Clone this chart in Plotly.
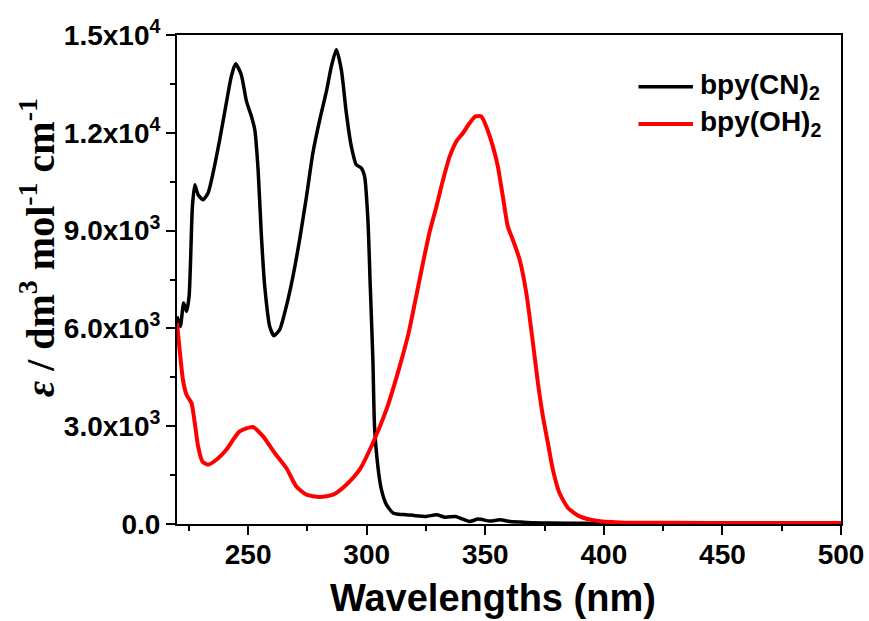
import plotly.graph_objects as go

# bpy(CN)2 absorption spectrum (wavelength in nm, epsilon in dm3 mol-1 cm-1)
cn_wl = [220.0, 221.4, 222.8, 224.0, 225.1, 226.5, 227.5, 228.9, 231.0, 233.1,
         235.2, 238.0, 240.8, 242.9, 244.7, 247.1, 249.3, 251.4, 252.8, 254.2,
         255.6, 257.0, 259.1, 260.9, 263.3, 266.1, 268.9, 271.7, 274.6, 277.3,
         280.2, 283.0, 285.1, 287.2, 289.3, 291.4, 293.5, 295.6, 297.7, 299.1,
         300.5, 301.5, 302.6, 303.3, 304.7, 306.2, 308.3, 311.1, 313.5, 316.7,
         320.0, 325.1, 329.4, 333.0, 337.5, 339.2, 343.4, 347.0, 352.0, 356.0,
         360.3, 365.0, 370.0, 378.4, 390.0, 410.0, 440.0, 470.0, 500.0]
cn_eps = [6368, 6061, 6779, 6521, 6982, 9742, 10408, 10101, 9948, 10153,
          10767, 11788, 12914, 13730, 14120, 13782, 12963, 12503, 12095, 10868,
          8822, 7288, 6061, 5776, 5960, 6675, 7595, 8721, 10049, 11380,
          12402, 13270, 14037, 14549, 13936, 12607, 11583, 11022, 10920, 10663,
          9334, 7288, 5040, 2994, 1767, 1052, 592, 337, 300, 285,
          260, 233, 285, 210, 230, 184, 80, 150, 90, 130,
          80, 60, 40, 30, 20, 15, 10, 10, 10]

# bpy(OH)2 absorption spectrum
oh_wl = [220.0, 221.1, 222.5, 224.0, 226.1, 227.5, 228.9, 230.7, 233.1, 236.6,
         240.8, 246.4, 252.0, 256.3, 261.2, 266.1, 270.3, 274.6, 280.2, 285.8,
         291.4, 297.0, 302.6, 308.3, 313.9, 317.8, 320.9, 323.7, 326.5, 329.4,
         332.2, 335.0, 337.8, 340.6, 343.4, 345.9, 348.3, 350.4, 353.2, 355.3,
         357.4, 359.5, 361.6, 364.5, 367.3, 370.1, 372.2, 374.3, 376.4, 378.5,
         381.3, 384.9, 389.8, 396.8, 406.6, 430.0, 460.0, 500.0]
oh_eps = [6166, 5347, 4426, 3966, 3712, 3098, 2380, 1920, 1819, 1972,
          2279, 2840, 2975, 2687, 2178, 1718, 1153, 899, 828, 899,
          1206, 1666, 2485, 3506, 4834, 5900, 7000, 8000, 8950, 9742,
          10561, 11276, 11736, 11994, 12301, 12503, 12503, 12196, 11583, 10969,
          10049, 9129, 8721, 8107, 7086, 5552, 4325, 3301, 2485, 1666,
          951, 491, 233, 101, 49, 35, 30, 30]

series_names = ["bpy(CN)<sub>2</sub>", "bpy(OH)<sub>2</sub>"]
series_colors = ["black", "#ff0000"]
series_widths = [3.5, 4]

y_ticks = [0, 3000, 6000, 9000, 12000, 15000]
y_tick_text = ["0.0", "3.0x10<sup>3</sup>", "6.0x10<sup>3</sup>",
               "9.0x10<sup>3</sup>", "1.2x10<sup>4</sup>", "1.5x10<sup>4</sup>"]
x_ticks = [250, 300, 350, 400, 450, 500]

fig = go.Figure()
for wl, eps, name, color, width in zip([cn_wl, oh_wl], [cn_eps, oh_eps],
                                       series_names, series_colors, series_widths):
    fig.add_trace(go.Scatter(x=wl, y=eps, mode="lines", name=name, showlegend=False,
                             line=dict(color=color, width=width, shape="spline",
                                       smoothing=0.6)))

axis_font = dict(family="Liberation Sans, Arial, sans-serif", size=28,
                 color="black", weight="bold")

fig.update_xaxes(range=[220, 500], tickvals=x_ticks, ticks="outside", ticklen=9,
                 tickwidth=2, tickcolor="black", showline=True, linewidth=2,
                 linecolor="black", mirror=True, showgrid=False, zeroline=False,
                 tickfont=axis_font, automargin=False, ticklabelstandoff=-5,
                 minor=dict(tick0=225, dtick=50, ticks="outside", ticklen=5,
                            tickwidth=2, tickcolor="black"))
fig.update_yaxes(range=[0, 15000], tickvals=y_ticks, ticktext=y_tick_text,
                 ticks="outside", ticklen=9, tickwidth=2, tickcolor="black",
                 showline=True, linewidth=2, linecolor="black", mirror=True,
                 showgrid=False, zeroline=False, tickfont=axis_font, automargin=False,
                 minor=dict(tick0=1500, dtick=3000, ticks="outside", ticklen=5,
                            tickwidth=2, tickcolor="black"))

fig.add_annotation(text="<b>Wavelengths (nm)</b>", xref="paper", yref="paper",
                   x=0.476, y=-0.151, xanchor="center", yanchor="middle",
                   showarrow=False,
                   font=dict(family="Liberation Sans, Arial, sans-serif", size=38,
                             color="black"))
fig.add_annotation(text="<b><i>ε</i> / dm<sup>3</sup> mol<sup>-1</sup> cm<sup>-1</sup></b>",
                   xref="paper", yref="paper", x=-0.21, y=0.565,
                   xanchor="center", yanchor="middle", textangle=-90,
                   showarrow=False,
                   font=dict(family="Liberation Serif, Times New Roman, serif",
                             size=40, color="black"))

# Legend drawn as short line samples with labels in the upper right
legend_rows_y = [0.894, 0.818]
for name, color, width, ly in zip(series_names, series_colors, series_widths,
                                  legend_rows_y):
    fig.add_shape(type="line", xref="paper", yref="paper",
                  x0=0.695, x1=0.777, y0=ly, y1=ly,
                  line=dict(color=color, width=width))
    fig.add_annotation(text="<b>" + name + "</b>", xref="paper", yref="paper",
                       x=0.785, y=ly, xanchor="left", yanchor="middle",
                       showarrow=False,
                       font=dict(family="Liberation Sans, Arial, sans-serif",
                                 size=28, color="black"))

fig.update_layout(
    width=869, height=621,
    margin=dict(l=177, r=28, t=35, b=97),
    paper_bgcolor="white", plot_bgcolor="white",
    showlegend=False,
)

fig.write_html("out.html")
